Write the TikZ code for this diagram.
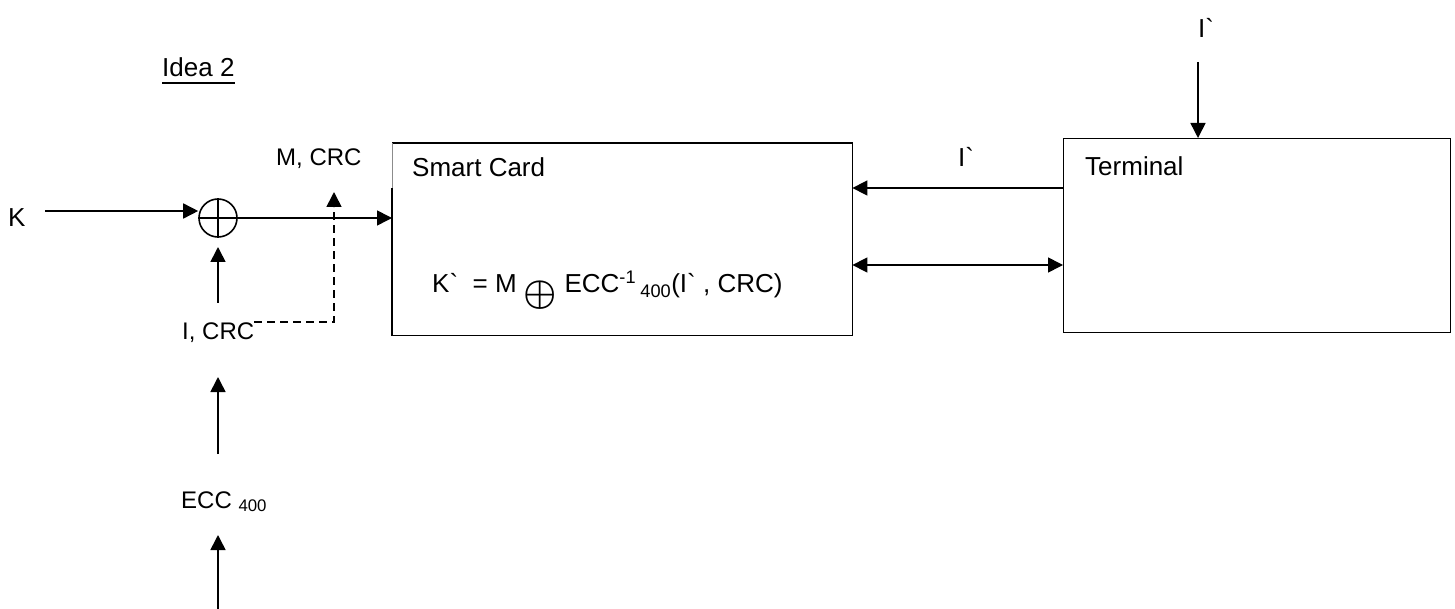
\documentclass[tikz,border=0pt]{standalone}
\usepackage{fontspec}
\setmainfont{Liberation Sans}
\usepackage{bm}
\usetikzlibrary{arrows.meta}
\begin{document}
\begin{tikzpicture}[x=1pt,y=-1pt,
  txt/.style={font=\fontsize{26}{30}\selectfont, inner sep=0pt, anchor=base west},
  stxt/.style={font=\fontsize{24}{28}\selectfont, inner sep=0pt, anchor=base west},
  arr/.style={-{Triangle[length=15pt,width=15pt]}, line width=1.6pt},
  ln/.style={line width=1.6pt},
  boxln/.style={line width=1.4pt}]
\useasboundingbox (0,0) rectangle (1455,609);

% title
\node[txt] (idea) at (162,77) {Idea 2};
\draw[line width=2pt] ([yshift=-6pt]idea.base west) -- ([yshift=-6pt]idea.base east);

% terminal
\node[draw, boxln, anchor=north west, minimum width=387pt, minimum height=194pt] (term) at (1063,138) {};
\node[txt] (termt) at (1085,176) {Terminal};
\node[txt] (ip) at (1198,38) {I\textasciigrave};
\coordinate (ipa) at (1198,62);
\draw[arr] (ipa) -- (ipa |- term.north);

% smart card
\node[anchor=north west, minimum width=460pt, minimum height=192pt, inner sep=0pt] (sc) at (392,143) {};
\coordinate (scgap) at (392,188);
\draw[boxln] (scgap) -- (sc.south west) -- (sc.south east) -- (sc.north east) -- (sc.north west);
\draw[line width=0.6pt, black!45] (sc.north west) -- (scgap);
\node[txt] (sct) at (412,177) {Smart Card};
\node[txt] (form) at (432,293) {K\textasciigrave\ \ = M \raisebox{-11pt}{\scalebox{1.5}{$\bm{\oplus}$}} ECC\textsuperscript{-1}\,\textsubscript{400}(I\textasciigrave\ , CRC)};

% links smart card <-> terminal
\coordinate (ya) at (0,188);
\coordinate (yb) at (0,265);
\draw[arr] (term.west |- ya) -- (sc.east |- ya);
\draw[ln, {Triangle[length=15pt,width=15pt]}-{Triangle[length=15pt,width=15pt]}] (sc.east |- yb) -- (term.west |- yb);
\node[txt] (ipl) at (958,167) {I\textasciigrave};

% left part
\node[txt] (K) at (8,227) {K};
\node[circle, draw, ln, minimum size=38pt, inner sep=0pt] (xo) at (218,218) {};
\draw[ln] (xo.north) -- (xo.south) (xo.west) -- (xo.east);
\coordinate (kst) at (45,211);
\draw[arr] (kst) -- (xo.west |- kst);
\draw[arr] (xo.east) -- (sc.west |- xo.east);
\node[stxt] (mcrc) at (276,166) {M, CRC};
\node[stxt] (icrc) at (182,339) {I, CRC};
\coordinate (ia) at (218,303);
\coordinate (ib) at (218,247);
\draw[arr] (ia) -- (ib);
\coordinate (dc) at (334,322);
\coordinate (dt) at (334,192);
\draw[arr, dash pattern=on 8pt off 5pt] (icrc.east |- dc) -- (dc) -- (dt);

\node[stxt] (ecc) at (181,508) {ECC \textsubscript{400}};
\coordinate (e1) at (218,454);
\coordinate (e2) at (218,377);
\draw[arr] (e1) -- (e2);
\coordinate (b1) at (218,609);
\coordinate (b2) at (218,535);
\draw[arr] (b1) -- (b2);
\end{tikzpicture}
\end{document}
